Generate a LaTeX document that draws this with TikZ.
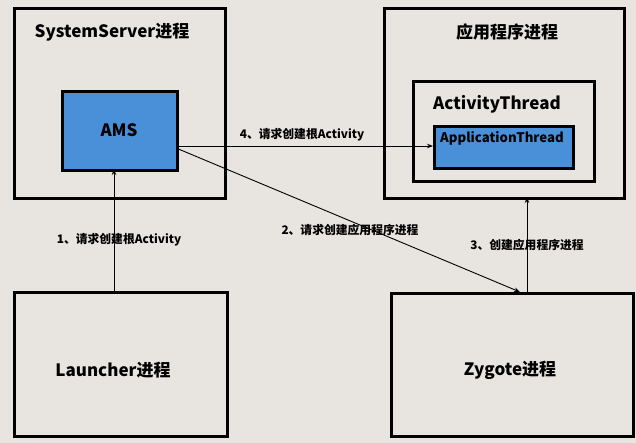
\documentclass[tikz,border=0pt]{standalone}
\usepackage{fontspec}
\setmainfont{Noto Sans CJK SC}
\usetikzlibrary{arrows.meta,calc}
\definecolor{bg}{HTML}{E8E4DF}
\definecolor{amsblue}{HTML}{4A90D9}
\begin{document}
\begin{tikzpicture}[x=1pt,y=-1pt,
  box/.style={draw=black,line width=3pt,anchor=north west,inner sep=0pt},
  bluebox/.style={box,fill=amsblue},
  title/.style={font=\fontsize{17}{19}\selectfont\bfseries},
  lbl/.style={font=\fontsize{11.8}{13}\selectfont\bfseries},
  arr/.style={draw=black,line width=0.9pt,-{Stealth[length=6pt,width=4.5pt]}}]
\fill[bg] (0,0) rectangle (636,443);
\useasboundingbox (0,0) rectangle (636,443);
% boxes
\node[box,minimum width=211pt,minimum height=190pt] (ss) at (13,7) {};
\node[bluebox,minimum width=115pt,minimum height=79pt] (ams) at (61,90) {};
\node[box,minimum width=240pt,minimum height=190pt] (app) at (383,7) {};
\node[box,minimum width=181pt,minimum height=100pt] (actt) at (412,80) {};
\node[bluebox,minimum width=139pt,minimum height=42pt] (appt) at (433,125) {};
\node[box,minimum width=213pt,minimum height=144pt] (la) at (13,291) {};
\node[box,minimum width=242pt,minimum height=143pt] (zy) at (390,292) {};
% titles
\node[title] (sst) at (112,32) {SystemServer进程};
\node[title] (amst) at (119,130) {AMS};
\node[title] (appti) at (507,32) {应用程序进程};
\node[title] (actti) at (497,104) {ActivityThread};
\node[font=\fontsize{13.2}{15}\selectfont\bfseries] (apptt) at (502,138) {ApplicationThread};
\node[title] (lat) at (113,370) {Launcher进程};
\node[title] (zyt) at (510,370) {Zygote进程};
% connectors
\coordinate (p1s) at (114,291);
\coordinate (p1e) at (114,169);
\draw[arr] (p1s) -- (p1e);
\coordinate (p4s) at (176,146);
\draw[arr] (p4s) -- (appt.west |- p4s);
\coordinate (p2s) at (176,148);
\coordinate (p2e) at (520,292);
\draw[arr] (p2s) -- (p2e);
\coordinate (p3s) at (527,292);
\coordinate (p3e) at (527,197);
\draw[arr] (p3s) -- (p3e);
% labels
\node[lbl] (l1) at (119,240) {1、请求创建根Activity};
\node[lbl] (l4) at (302,135) {4、请求创建根Activity};
\node[lbl] (l2) at (350,230) {2、请求创建应用程序进程};
\node[lbl] (l3) at (527,245) {3、创建应用程序进程};
\end{tikzpicture}
\end{document}
